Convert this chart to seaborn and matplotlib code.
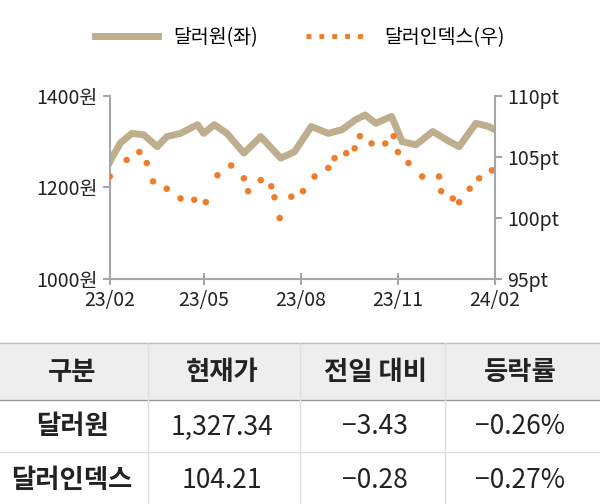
import numpy as np
import pandas as pd
import seaborn as sns
import matplotlib.pyplot as plt
import matplotlib.dates as mdates
from matplotlib.lines import Line2D

plt.rcParams['font.family'] = ['Noto Sans CJK JP', 'Noto Sans CJK KR', 'Noto Sans CJK SC', 'DejaVu Sans']

# ---------- data ----------
won_dates = ['2023-02-01', '2023-02-11', '2023-02-22', '2023-03-05', '2023-03-18', '2023-03-27',
             '2023-04-09', '2023-04-25', '2023-05-01', '2023-05-11', '2023-05-23', '2023-06-08',
             '2023-06-24', '2023-07-13', '2023-07-26', '2023-08-11', '2023-08-27', '2023-09-09',
             '2023-09-22', '2023-10-01', '2023-10-11', '2023-10-26', '2023-11-05', '2023-11-18',
             '2023-12-04', '2023-12-20', '2023-12-29', '2024-01-14', '2024-01-26', '2024-02-01']
won_values = [1256, 1297, 1318, 1315, 1289, 1311, 1318, 1337, 1318, 1337, 1318, 1275,
              1311, 1264, 1278, 1333, 1318, 1326, 1348, 1358, 1340, 1355, 1300, 1293,
              1322, 1300, 1289, 1340, 1333, 1326]

idx_dates = ['2023-02-01', '2023-02-17', '2023-03-01', '2023-03-08', '2023-03-14', '2023-03-27',
             '2023-04-09', '2023-04-22', '2023-05-03', '2023-05-14', '2023-05-27', '2023-06-08',
             '2023-06-12', '2023-06-24', '2023-07-04', '2023-07-07', '2023-07-12', '2023-07-23',
             '2023-08-03', '2023-08-14', '2023-08-27', '2023-09-02', '2023-09-13', '2023-09-21',
             '2023-09-26', '2023-10-07', '2023-10-20', '2023-10-28', '2023-11-01', '2023-11-11',
             '2023-11-24', '2023-12-10', '2023-12-12', '2023-12-23', '2023-12-29', '2024-01-08',
             '2024-01-17', '2024-01-29', '2024-02-01']
idx_values = [103.4, 104.75, 105.4, 104.5, 103.0, 102.4, 101.6, 101.5, 101.3, 103.5, 104.3, 103.25,
              102.2, 103.1, 102.6, 101.7, 100.0, 101.75, 102.2, 103.4, 104.1, 104.9, 105.3, 105.7,
              106.7, 106.1, 106.1, 106.7, 105.4, 104.5, 103.4, 103.4, 102.2, 101.6, 101.3, 102.4,
              103.25, 103.9, 103.9]

table_header = ['구분', '현재가', '전일 대비', '등락률']
table_rows = [['달러원', '1,327.34', '−3.43', '−0.26%'],
              ['달러인덱스', '104.21', '−0.28', '−0.27%']]

won = pd.DataFrame({'date': pd.to_datetime(won_dates), 'value': won_values})
idx = pd.DataFrame({'date': pd.to_datetime(idx_dates), 'value': idx_values})

WON_C = '#bfae8e'
IDX_C = '#ee7d2b'
GRID = '#a6a6a6'

fig = plt.figure(figsize=(6, 5.04), dpi=100)
ax = fig.add_axes([0.183, 0.446, 0.642, 0.364])
ax2 = ax.twinx()

sns.lineplot(data=won, x='date', y='value', ax=ax, color=WON_C, lw=5, label='달러원(좌)', legend=False)
sns.scatterplot(data=idx, x='date', y='value', ax=ax2, color=IDX_C, s=22, edgecolor='none',
                label='달러인덱스(우)', legend=False)

ax.set_xlim(pd.Timestamp('2023-02-01'), pd.Timestamp('2024-02-01'))
ax.set_ylim(1000, 1400)
ax2.set_ylim(95, 110)
ax.set_yticks([1000, 1200, 1400])
ax.set_yticklabels(['1000원', '1200원', '1400원'])
ax2.set_yticks([95, 100, 105, 110])
ax2.set_yticklabels(['95pt', '100pt', '105pt', '110pt'])
ax.xaxis.set_major_locator(mdates.MonthLocator(bymonth=[2, 5, 8, 11]))
ax.xaxis.set_major_formatter(mdates.DateFormatter('%y/%m'))
ax.set_xlabel('')
ax.set_ylabel('')
ax2.set_ylabel('')
for a in (ax, ax2):
    for s in a.spines.values():
        s.set_visible(False)
    a.tick_params(colors=GRID, labelcolor='#222222', labelsize=14, width=1.5, length=5)
ax.spines['left'].set_visible(True)
ax.spines['bottom'].set_visible(True)
ax2.spines['right'].set_visible(True)
for s in (ax.spines['left'], ax.spines['bottom'], ax2.spines['right']):
    s.set_color(GRID)
    s.set_linewidth(1.5)
ax.tick_params(axis='x', direction='inout', length=8)

# legend
l1 = ax.get_legend_handles_labels()[1]
l2 = ax2.get_legend_handles_labels()[1]
handles = [Line2D([], [], color=WON_C, lw=5),
           Line2D([], [], color=IDX_C, ls=':', lw=3.5)]
fig.legend(handles, l1 + l2, loc='center', bbox_to_anchor=(0.5, 0.925), ncol=2, frameon=False,
           fontsize=14, handlelength=3.2, columnspacing=2.5)

# ---------- table ----------
H = 504
def fy(py):
    return 1 - py / H

fig.patches.append(plt.Rectangle((0, fy(400)), 1, fy(343) - fy(400), transform=fig.transFigure,
                                 color='#eeeeee', zorder=0))
for py, c in [(343, '#bbbbbb'), (400, '#999999'), (452, '#dddddd')]:
    fig.add_artist(Line2D([0, 1], [fy(py), fy(py)], color=c, lw=1, transform=fig.transFigure))
for px in [148, 300, 445]:
    fig.add_artist(Line2D([px / 600] * 2, [fy(343), fy(504)], color='#e0e0e0', lw=1,
                          transform=fig.transFigure))
col_x = [72, 222, 375, 520]
for x, t in zip(col_x, table_header):
    fig.text(x / 600, fy(372), t, ha='center', va='center', fontsize=19, fontweight='bold', color='#222222')
for py, row in zip([427, 480], table_rows):
    for i, (x, t) in enumerate(zip(col_x, row)):
        fig.text(x / 600, fy(py), t, ha='center', va='center', fontsize=19,
                 fontweight='bold' if i == 0 else 'normal', color='#222222')

fig.savefig('out.png', dpi=100)
